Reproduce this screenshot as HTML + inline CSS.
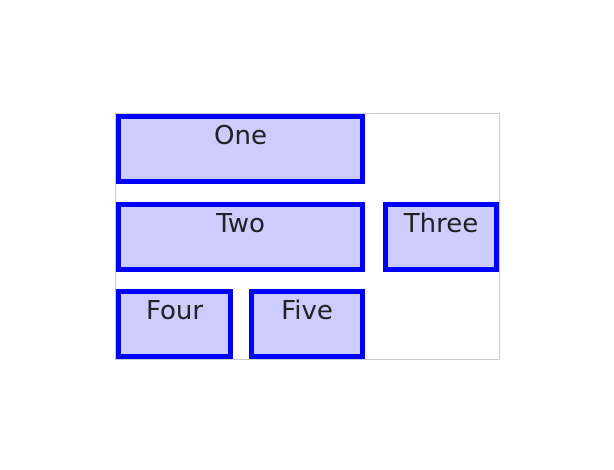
<!DOCTYPE html>
<html><head><meta charset="utf-8"><style>
html,body{margin:0;padding:0;background:#fff;width:614px;height:470px;overflow:hidden}
#grid{position:absolute;left:115px;top:113px;width:383px;height:245px;border:1px solid #ccc}
.item{position:absolute;box-sizing:border-box;border:5px solid #00f;background:#ccf;
font-family:"DejaVu Sans","Liberation Sans",sans-serif;font-size:26px;color:#222;text-align:center;line-height:34px}
</style></head><body>
<div id="grid">
<div class="item" style="left:0;top:0;width:249px;height:70px">One</div>
<div class="item" style="left:0;top:88px;width:249px;height:70px">Two</div>
<div class="item" style="left:267px;top:88px;width:116px;height:70px">Three</div>
<div class="item" style="left:0;top:175px;width:117px;height:70px">Four</div>
<div class="item" style="left:133px;top:175px;width:116px;height:70px">Five</div>
</div>
</body></html>
